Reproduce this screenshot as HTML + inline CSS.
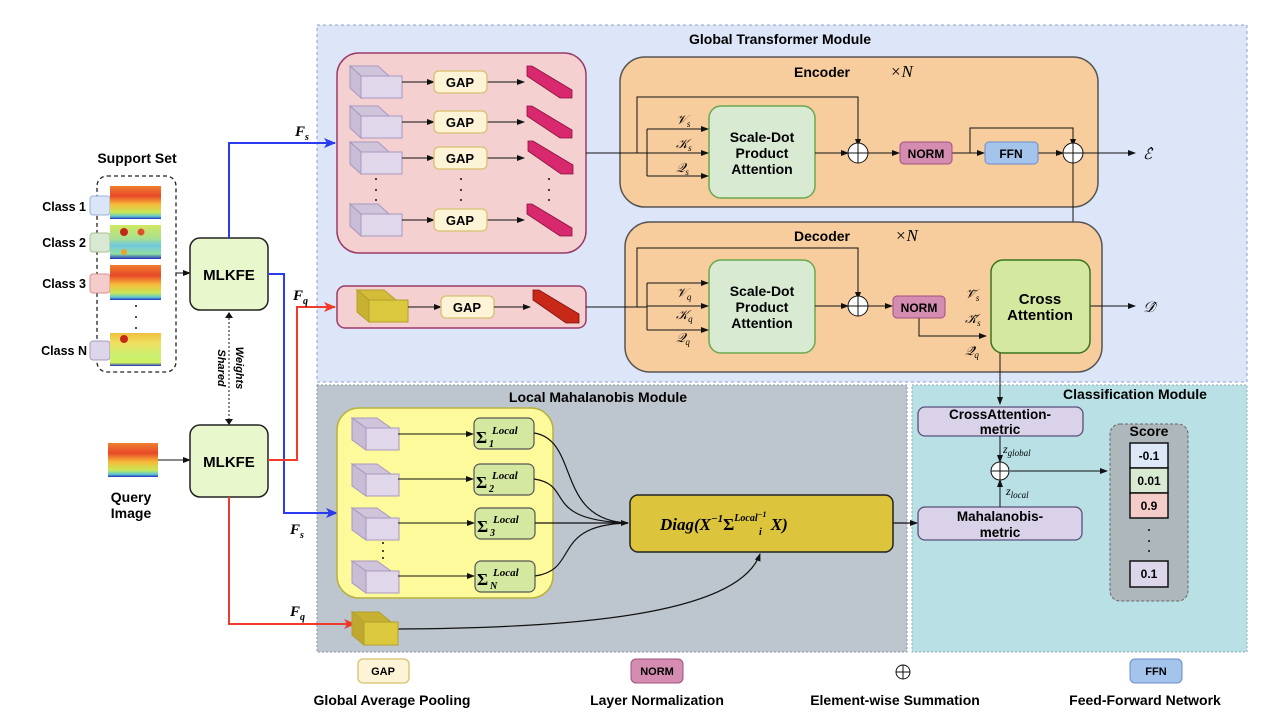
<!DOCTYPE html>
<html><head><meta charset="utf-8"><style>
html,body{margin:0;padding:0;background:#fff;}
svg{display:block;font-family:"Liberation Sans",sans-serif;}
.b{font-weight:bold;}
.m{font-family:"Liberation Serif",serif;font-style:italic;}
</style></head><body>
<svg width="1280" height="720" viewBox="0 0 1280 720" xmlns="http://www.w3.org/2000/svg">
<defs>
<marker id="ah" markerWidth="8" markerHeight="8" refX="7" refY="4" orient="auto" markerUnits="userSpaceOnUse"><path d="M0,1 L8,4 L0,7 Z" fill="#111"/></marker>
<marker id="ab" markerWidth="12" markerHeight="10" refX="11" refY="5" orient="auto" markerUnits="userSpaceOnUse"><path d="M0,0 L12,5 L0,10 L3,5 Z" fill="#2b3cf0"/></marker>
<marker id="ar" markerWidth="12" markerHeight="10" refX="11" refY="5" orient="auto" markerUnits="userSpaceOnUse"><path d="M0,0 L12,5 L0,10 L3,5 Z" fill="#f03a2b"/></marker>
<linearGradient id="sp1" x1="0" y1="0" x2="0" y2="1"><stop offset="0" stop-color="#f08030"/><stop offset=".3" stop-color="#e84828"/><stop offset=".55" stop-color="#f7b838"/><stop offset=".8" stop-color="#c8e858"/><stop offset=".92" stop-color="#60c8d0"/><stop offset="1" stop-color="#2030c0"/></linearGradient>
<linearGradient id="sp2" x1="0" y1="0" x2="0" y2="1"><stop offset="0" stop-color="#d0e860"/><stop offset=".4" stop-color="#a8e090"/><stop offset=".6" stop-color="#70c8e0"/><stop offset=".85" stop-color="#90e0a0"/><stop offset="1" stop-color="#2030c0"/></linearGradient>
<linearGradient id="sp4" x1="0" y1="0" x2="0" y2="1"><stop offset="0" stop-color="#f0c040"/><stop offset=".3" stop-color="#f0e060"/><stop offset=".7" stop-color="#c8f070"/><stop offset=".9" stop-color="#d0f060"/><stop offset="1" stop-color="#2030c0"/></linearGradient>
<g id="cube"><path d="M0,13 L13,0 L41,0 L41,-0 Z" fill="none"/><polygon points="0,0 13,0 13,0" /></g>
</defs>

<!-- panels -->
<rect x="317" y="25" width="930" height="357" fill="#dce6f8" stroke="#8aa0c8" stroke-dasharray="3,3"/>
<text x="780" y="44" text-anchor="middle" class="b" font-size="14">Global Transformer Module</text>
<rect x="317" y="385" width="590" height="267" fill="#bdc6cf" stroke="#8a96a0" stroke-dasharray="2,2"/>
<text x="598" y="402" text-anchor="middle" class="b" font-size="14">Local Mahalanobis Module</text>
<rect x="912" y="385" width="335" height="267" fill="#b8e0e5" stroke="#8ab0b8" stroke-dasharray="2,2"/>
<text x="1135" y="399" text-anchor="middle" class="b" font-size="14">Classification Module</text>

<!-- support set -->
<text x="137" y="163" text-anchor="middle" class="b" font-size="14">Support Set</text>
<rect x="97" y="176" width="79" height="196" rx="10" fill="none" stroke="#222" stroke-dasharray="4,3" stroke-width="1.3"/>
<g class="b" font-size="12.5" text-anchor="end">
<text x="86" y="211">Class 1</text><text x="86" y="247">Class 2</text><text x="86" y="288">Class 3</text><text x="87" y="355">Class N</text></g>
<rect x="90" y="196" width="20" height="19" rx="3" fill="#dae6f8" stroke="#9ab0d8"/>
<rect x="90" y="233" width="20" height="19" rx="3" fill="#d8e8d2" stroke="#a8c090"/>
<rect x="90" y="274" width="20" height="19" rx="3" fill="#f4cccc" stroke="#d89090"/>
<rect x="90" y="341" width="20" height="19" rx="3" fill="#ddd5ea" stroke="#a898c0"/>
<rect x="110" y="186" width="51" height="33" fill="url(#sp1)"/>
<rect x="110" y="225" width="51" height="34" fill="url(#sp2)"/>
<circle cx="124" cy="232" r="4" fill="#c02818"/><circle cx="141" cy="232" r="3.5" fill="#e05028"/><circle cx="124" cy="252" r="3" fill="#f0a030"/>
<rect x="110" y="265" width="51" height="35" fill="url(#sp1)"/>
<rect x="110" y="333" width="51" height="33" fill="url(#sp4)"/>
<circle cx="124" cy="339" r="4" fill="#c82818"/>
<g fill="#111"><circle cx="136" cy="306" r="1"/><circle cx="136" cy="317" r="1"/><circle cx="136" cy="328" r="1"/></g>
<line x1="176" y1="273" x2="190" y2="273" stroke="#111" marker-end="url(#ah)"/>

<!-- query -->
<rect x="108" y="443" width="50" height="34" fill="url(#sp1)"/>
<text x="131" y="502" text-anchor="middle" class="b" font-size="14">Query</text>
<text x="131" y="518" text-anchor="middle" class="b" font-size="14">Image</text>
<line x1="158" y1="460" x2="190" y2="460" stroke="#111" marker-end="url(#ah)"/>

<!-- MLKFE -->
<rect x="190" y="238" width="78" height="72" rx="10" fill="#e8f8cc" stroke="#222" stroke-width="1.5"/>
<text x="229" y="280" text-anchor="middle" class="b" font-size="15">MLKFE</text>
<rect x="190" y="425" width="78" height="72" rx="10" fill="#e8f8cc" stroke="#222" stroke-width="1.5"/>
<text x="229" y="467" text-anchor="middle" class="b" font-size="15">MLKFE</text>
<line x1="229" y1="318" x2="229" y2="419" stroke="#111" stroke-dasharray="2,2"/>
<path d="M225,318 L229,312 L233,318Z M225,419 L229,425 L233,419Z" fill="#111"/>
<text transform="translate(218,368) rotate(90)" text-anchor="middle" class="b" font-size="11" font-style="italic">Shared</text>
<text transform="translate(236,368) rotate(90)" text-anchor="middle" class="b" font-size="11" font-style="italic">Weights</text>

<!-- blue/red lines -->
<g fill="none" stroke-width="2">
<path d="M229,238 V143 H335" stroke="#2b3cf0" marker-end="url(#ab)"/>
<path d="M268,274 H284 V513 H337" stroke="#2b3cf0" marker-end="url(#ab)"/>
<path d="M268,460 H297 V307 H335" stroke="#f03a2b" marker-end="url(#ar)"/>
<path d="M229,497 V624 H355" stroke="#f03a2b" marker-end="url(#ar)"/>
</g>
<g class="m b" font-size="15">
<text x="295" y="136">F<tspan font-size="10" dy="4">s</tspan></text>
<text x="293" y="300">F<tspan font-size="10" dy="4">q</tspan></text>
<text x="290" y="534">F<tspan font-size="10" dy="4">s</tspan></text>
<text x="290" y="616">F<tspan font-size="10" dy="4">q</tspan></text>
</g>

<!-- support pink box -->
<rect x="337" y="53" width="249" height="200" rx="22" fill="#f4d0d0" stroke="#9b3b6a" stroke-width="1.5"/>
<g id="rows">
<g transform="translate(350,66)">
<polygon points="0,0 28,0 39,10 11,10" fill="#cfc4da" stroke="#a898c0"/><polygon points="0,0 11,10 11,32 0,22" fill="#c8bcd6" stroke="#a898c0"/><rect x="11" y="10" width="41" height="22" fill="#e0d7ea" stroke="#a898c0"/>
</g>
</g>
<g transform="translate(350,106)"><polygon points="0,0 28,0 39,10 11,10" fill="#cfc4da" stroke="#a898c0"/><polygon points="0,0 11,10 11,32 0,22" fill="#c8bcd6" stroke="#a898c0"/><rect x="11" y="10" width="41" height="22" fill="#e0d7ea" stroke="#a898c0"/></g>
<g transform="translate(350,142)"><polygon points="0,0 28,0 39,10 11,10" fill="#cfc4da" stroke="#a898c0"/><polygon points="0,0 11,10 11,32 0,22" fill="#c8bcd6" stroke="#a898c0"/><rect x="11" y="10" width="41" height="22" fill="#e0d7ea" stroke="#a898c0"/></g>
<g transform="translate(350,204)"><polygon points="0,0 28,0 39,10 11,10" fill="#cfc4da" stroke="#a898c0"/><polygon points="0,0 11,10 11,32 0,22" fill="#c8bcd6" stroke="#a898c0"/><rect x="11" y="10" width="41" height="22" fill="#e0d7ea" stroke="#a898c0"/></g>
<g stroke="#111" marker-end="url(#ah)">
<line x1="402" y1="82" x2="434" y2="82"/><line x1="487" y1="82" x2="524" y2="82"/>
<line x1="402" y1="122" x2="434" y2="122"/><line x1="487" y1="122" x2="524" y2="122"/>
<line x1="402" y1="158" x2="434" y2="158"/><line x1="487" y1="158" x2="524" y2="158"/>
<line x1="402" y1="220" x2="434" y2="220"/><line x1="487" y1="220" x2="524" y2="220"/>
</g>
<g fill="#fdf3d6" stroke="#d8c070" stroke-width="1.3">
<rect x="434" y="71" width="53" height="22" rx="5"/><rect x="434" y="111" width="53" height="22" rx="5"/><rect x="434" y="147" width="53" height="22" rx="5"/><rect x="434" y="209" width="53" height="22" rx="5"/>
</g>
<g class="b" font-size="13" text-anchor="middle"><text x="460" y="87">GAP</text><text x="460" y="127">GAP</text><text x="460" y="163">GAP</text><text x="460" y="225">GAP</text></g>
<g fill="#d8286e" stroke="#8a1040" stroke-width="0.8">
<polygon points="527,66 532,66 572,90 572,98 560,98 527,76"/>
<polygon points="527,106 532,106 572,130 572,138 560,138 527,116"/>
<polygon points="528,141 533,141 573,165 573,174 561,174 528,151"/>
<polygon points="527,204 532,204 572,228 572,236 560,236 527,214"/>
</g>
<g fill="#111"><circle cx="376" cy="179" r="1"/><circle cx="376" cy="190" r="1"/><circle cx="376" cy="200" r="1"/>
<circle cx="461" cy="179" r="1"/><circle cx="461" cy="190" r="1"/><circle cx="461" cy="200" r="1"/>
<circle cx="549" cy="179" r="1"/><circle cx="549" cy="190" r="1"/><circle cx="549" cy="200" r="1"/></g>

<!-- query pink box -->
<rect x="337" y="286" width="249" height="42" rx="8" fill="#f4d0d0" stroke="#9b3b6a" stroke-width="1.5"/>
<g transform="translate(357,290)"><polygon points="0,0 27,0 39,10 12,10" fill="#d4bc38" stroke="#b0a030"/><polygon points="0,0 12,10 12,32 0,22" fill="#c8b030" stroke="#b0a030"/><rect x="12" y="10" width="39" height="22" fill="#dcc83c" stroke="#b0a030"/></g>
<line x1="408" y1="307" x2="441" y2="307" stroke="#111" marker-end="url(#ah)"/>
<rect x="441" y="296" width="53" height="22" rx="5" fill="#fdf3d6" stroke="#d8c070" stroke-width="1.3"/>
<text x="467" y="312" text-anchor="middle" class="b" font-size="13">GAP</text>
<line x1="494" y1="307" x2="530" y2="307" stroke="#111" marker-end="url(#ah)"/>
<polygon points="533,290 539,290 579,314 579,323 566,323 533,300" fill="#c82818" stroke="#801010" stroke-width="0.8"/>

<!-- Encoder -->
<rect x="620" y="57" width="478" height="150" rx="25" fill="#f8cd9e" stroke="#555" stroke-width="1.5"/>
<text x="850" y="77" text-anchor="end" class="b" font-size="14">Encoder</text>
<text x="890" y="77" class="m" font-size="17">×N</text>
<rect x="709" y="106" width="106" height="92" rx="12" fill="#d9ead3" stroke="#6aa84f" stroke-width="1.5"/>
<g class="b" font-size="14" text-anchor="middle"><text x="762" y="142">Scale-Dot</text><text x="762" y="158">Product</text><text x="762" y="174">Attention</text></g>
<g fill="none" stroke="#111">
<path d="M586,153 H647"/>
<path d="M637,153 V97 H858 V146" marker-end="url(#ah)"/>
<path d="M647,129 V176"/>
<path d="M647,129 H708" marker-end="url(#ah)"/><path d="M647,153 H708" marker-end="url(#ah)"/><path d="M647,176 H708" marker-end="url(#ah)"/>
<path d="M815,153 H848" marker-end="url(#ah)"/>
<path d="M868,153 H899" marker-end="url(#ah)"/>
<path d="M952,153 H984" marker-end="url(#ah)"/>
<path d="M970,153 V128 H1073 V146" marker-end="url(#ah)"/>
<path d="M1038,153 H1063" marker-end="url(#ah)"/>
<path d="M1083,153 H1135" marker-end="url(#ah)"/>
<path d="M1073,163 V251 H958 V306"/>
<path d="M958,280 H990" marker-end="url(#ah)"/><path d="M958,306 H990" marker-end="url(#ah)"/>
</g>
<g class="m" font-size="13"><text x="676" y="124">𝒱<tspan font-size="9" dy="3">s</tspan></text><text x="676" y="148">𝒦<tspan font-size="9" dy="3">s</tspan></text><text x="676" y="172">𝒬<tspan font-size="9" dy="3">s</tspan></text></g>
<circle cx="858" cy="153" r="10" fill="#fff" stroke="#111"/><path d="M848,153 H868 M858,143 V163" stroke="#111"/>
<rect x="900" y="142" width="52" height="22" rx="4" fill="#d48cb0" stroke="#a05080"/>
<text x="926" y="158" text-anchor="middle" class="b" font-size="12">NORM</text>
<rect x="985" y="142" width="53" height="22" rx="4" fill="#a4c4ec" stroke="#6a8cc8"/>
<text x="1011" y="158" text-anchor="middle" class="b" font-size="12">FFN</text>
<circle cx="1073" cy="153" r="10" fill="#fff" stroke="#111"/><path d="M1063,153 H1083 M1073,143 V163" stroke="#111"/>
<text x="1143" y="159" class="m" font-size="15">ℰ̂</text>

<!-- Decoder -->
<rect x="625" y="222" width="477" height="150" rx="25" fill="#f8cd9e" stroke="#555" stroke-width="1.5"/>
<text x="850" y="241" text-anchor="end" class="b" font-size="14">Decoder</text>
<text x="895" y="241" class="m" font-size="17">×N</text>
<rect x="709" y="260" width="106" height="93" rx="12" fill="#d9ead3" stroke="#6aa84f" stroke-width="1.5"/>
<g class="b" font-size="14" text-anchor="middle"><text x="762" y="296">Scale-Dot</text><text x="762" y="312">Product</text><text x="762" y="328">Attention</text></g>
<g fill="none" stroke="#111">
<path d="M586,307 H647"/>
<path d="M637,307 V248 H858 V299" marker-end="url(#ah)"/>
<path d="M647,283 V330"/>
<path d="M647,283 H708" marker-end="url(#ah)"/><path d="M647,306 H708" marker-end="url(#ah)"/><path d="M647,330 H708" marker-end="url(#ah)"/>
<path d="M815,306 H848" marker-end="url(#ah)"/>
<path d="M868,306 H892" marker-end="url(#ah)"/>
<path d="M919,318 V336 H986" marker-end="url(#ah)"/>
<path d="M1090,306 H1135" marker-end="url(#ah)"/>
<path d="M1000,353 V404" marker-end="url(#ah)"/>
</g>
<g class="m" font-size="13"><text x="676" y="297">𝒱<tspan font-size="9" dy="3">q</tspan></text><text x="676" y="319">𝒦<tspan font-size="9" dy="3">q</tspan></text><text x="676" y="342">𝒬<tspan font-size="9" dy="3">q</tspan></text>
<text x="965" y="298">𝒱̄<tspan font-size="9" dy="3">s</tspan></text><text x="965" y="323">𝒦̄<tspan font-size="9" dy="3">s</tspan></text><text x="965" y="355">𝒬̄<tspan font-size="9" dy="3">q</tspan></text></g>
<circle cx="858" cy="306" r="10" fill="#fff" stroke="#111"/><path d="M848,306 H868 M858,296 V316" stroke="#111"/>
<rect x="893" y="296" width="52" height="22" rx="4" fill="#d48cb0" stroke="#a05080"/>
<text x="919" y="312" text-anchor="middle" class="b" font-size="12">NORM</text>
<rect x="991" y="260" width="99" height="93" rx="12" fill="#d5e8a0" stroke="#38761d" stroke-width="1.5"/>
<g class="b" font-size="15" text-anchor="middle"><text x="1040" y="304">Cross</text><text x="1040" y="320">Attention</text></g>
<text x="1143" y="312" class="m" font-size="15">𝒟̂</text>

<!-- Local module -->
<rect x="337" y="408" width="216" height="190" rx="22" fill="#fdfa9c" stroke="#b8b040" stroke-width="1.5"/>
<g transform="translate(352,418)"><polygon points="0,0 25,0 39,10 14,10" fill="#cfc4da" stroke="#a898c0"/><polygon points="0,0 14,10 14,32 0,22" fill="#c8bcd6" stroke="#a898c0"/><rect x="14" y="10" width="33" height="22" fill="#e0d7ea" stroke="#a898c0"/></g>
<g transform="translate(352,464)"><polygon points="0,0 25,0 39,10 14,10" fill="#cfc4da" stroke="#a898c0"/><polygon points="0,0 14,10 14,32 0,22" fill="#c8bcd6" stroke="#a898c0"/><rect x="14" y="10" width="33" height="22" fill="#e0d7ea" stroke="#a898c0"/></g>
<g transform="translate(352,508)"><polygon points="0,0 25,0 39,10 14,10" fill="#cfc4da" stroke="#a898c0"/><polygon points="0,0 14,10 14,32 0,22" fill="#c8bcd6" stroke="#a898c0"/><rect x="14" y="10" width="33" height="22" fill="#e0d7ea" stroke="#a898c0"/></g>
<g transform="translate(352,561)"><polygon points="0,0 25,0 39,10 14,10" fill="#cfc4da" stroke="#a898c0"/><polygon points="0,0 14,10 14,32 0,22" fill="#c8bcd6" stroke="#a898c0"/><rect x="14" y="10" width="33" height="22" fill="#e0d7ea" stroke="#a898c0"/></g>
<g fill="#111"><circle cx="383" cy="543" r="1"/><circle cx="383" cy="551" r="1"/><circle cx="383" cy="558" r="1"/></g>
<g stroke="#111" marker-end="url(#ah)">
<line x1="398" y1="434" x2="473" y2="434"/><line x1="398" y1="479" x2="473" y2="479"/><line x1="398" y1="523" x2="474" y2="523"/><line x1="398" y1="576" x2="474" y2="576"/>
</g>
<g fill="#d4e8a0" stroke="#555" stroke-width="1.2">
<rect x="474" y="418" width="60" height="31" rx="6"/><rect x="474" y="464" width="60" height="31" rx="6"/><rect x="475" y="508" width="60" height="31" rx="6"/><rect x="475" y="561" width="60" height="31" rx="6"/>
</g>
<g class="m b">
<text x="476" y="443" font-size="17" font-style="normal">Σ</text><text x="492" y="434" font-size="11">Local</text><text x="489" y="447" font-size="10">1</text>
<text x="476" y="488" font-size="17" font-style="normal">Σ</text><text x="492" y="479" font-size="11">Local</text><text x="489" y="492" font-size="10">2</text>
<text x="477" y="532" font-size="17" font-style="normal">Σ</text><text x="493" y="523" font-size="11">Local</text><text x="490" y="536" font-size="10">3</text>
<text x="477" y="585" font-size="17" font-style="normal">Σ</text><text x="493" y="576" font-size="11">Local</text><text x="490" y="589" font-size="10">N</text>
</g>
<g fill="none" stroke="#111" stroke-width="1.2">
<path d="M534,433 C580,440 555,520 628,523"/>
<path d="M534,479 C575,485 540,520 628,523"/>
<path d="M535,523 H628" marker-end="url(#ah)"/>
<path d="M535,576 C580,570 550,525 628,523"/>
<path d="M398,629 C600,628 740,610 760,554" marker-end="url(#ah)"/>
<path d="M893,523 H917" marker-end="url(#ah)"/>
</g>
<rect x="630" y="495" width="263" height="57" rx="8" fill="#dcc43c" stroke="#222" stroke-width="1.5"/>
<text x="660" y="530" class="m b" font-size="17">Diag(X<tspan font-size="11" dy="-8">−1</tspan><tspan dy="8" font-style="normal">Σ</tspan><tspan font-size="10" dy="-9">Local</tspan><tspan font-size="8" dy="-4">−1</tspan><tspan dy="13"> X)</tspan></text>
<text x="759" y="535" class="m b" font-size="10">i</text>
<g transform="translate(352,612)"><polygon points="0,0 27,0 39,10 12,10" fill="#c8b030" stroke="#b0a030"/><polygon points="0,0 12,10 12,33 0,23" fill="#c0a830" stroke="#b0a030"/><rect x="12" y="10" width="34" height="23" fill="#dcc83c" stroke="#b0a030"/></g>

<!-- Classification -->
<rect x="918" y="407" width="165" height="29" rx="7" fill="#d9d2e9" stroke="#5a4f7a" stroke-width="1.3"/>
<g class="b" font-size="13.5" text-anchor="middle"><text x="1000" y="419">CrossAttention-</text><text x="1000" y="434">metric</text></g>
<rect x="918" y="507" width="164" height="33" rx="7" fill="#d9d2e9" stroke="#5a4f7a" stroke-width="1.3"/>
<g class="b" font-size="13.5" text-anchor="middle"><text x="1000" y="521">Mahalanobis-</text><text x="1000" y="537">metric</text></g>
<g fill="none" stroke="#111">
<path d="M1000,436 V462" marker-end="url(#ah)"/>
<path d="M1000,507 V480" marker-end="url(#ah)"/>
<path d="M1010,471 H1107" marker-end="url(#ah)"/>
</g>
<circle cx="1000" cy="471" r="9" fill="#fff" stroke="#111"/><path d="M991,471 H1009 M1000,462 V480" stroke="#111"/>
<text x="1003" y="453" class="m" font-size="12">z<tspan font-size="9" dy="3">global</tspan></text>
<text x="1006" y="495" class="m" font-size="12">z<tspan font-size="9" dy="3">local</tspan></text>
<rect x="1110" y="424" width="78" height="177" rx="10" fill="#aeb8bc" stroke="#666" stroke-dasharray="3,2"/>
<text x="1149" y="436" text-anchor="middle" class="b" font-size="14">Score</text>
<g stroke="#111" stroke-width="1.5">
<rect x="1130" y="443" width="38" height="25" fill="#dce8f8"/><rect x="1130" y="468" width="38" height="25" fill="#d9ead3"/><rect x="1130" y="493" width="38" height="25" fill="#f4ccc8"/><rect x="1130" y="561" width="38" height="26" fill="#ddd5ea"/>
</g>
<g class="b" font-size="12" text-anchor="middle"><text x="1149" y="460">-0.1</text><text x="1149" y="485">0.01</text><text x="1149" y="510">0.9</text><text x="1149" y="578">0.1</text></g>
<g fill="#111"><circle cx="1149" cy="530" r="1"/><circle cx="1149" cy="541" r="1"/><circle cx="1149" cy="551" r="1"/></g>

<!-- legend -->
<rect x="358" y="659" width="51" height="24" rx="5" fill="#fdf3d6" stroke="#d8c070" stroke-width="1.3"/>
<text x="383" y="675" text-anchor="middle" class="b" font-size="11">GAP</text>
<rect x="631" y="659" width="52" height="24" rx="5" fill="#d48cb0" stroke="#a05080"/>
<text x="657" y="675" text-anchor="middle" class="b" font-size="11">NORM</text>
<circle cx="903" cy="672" r="7" fill="#fff" stroke="#111"/><path d="M896,672 H910 M903,665 V679" stroke="#111"/>
<rect x="1130" y="659" width="52" height="24" rx="5" fill="#a4c4ec" stroke="#6a8cc8"/>
<text x="1156" y="675" text-anchor="middle" class="b" font-size="11">FFN</text>
<g class="b" font-size="14" text-anchor="middle">
<text x="392" y="705">Global Average Pooling</text>
<text x="657" y="705">Layer Normalization</text>
<text x="895" y="705">Element-wise Summation</text>
<text x="1145" y="705">Feed-Forward Network</text>
</g>
</svg>
</body></html>
